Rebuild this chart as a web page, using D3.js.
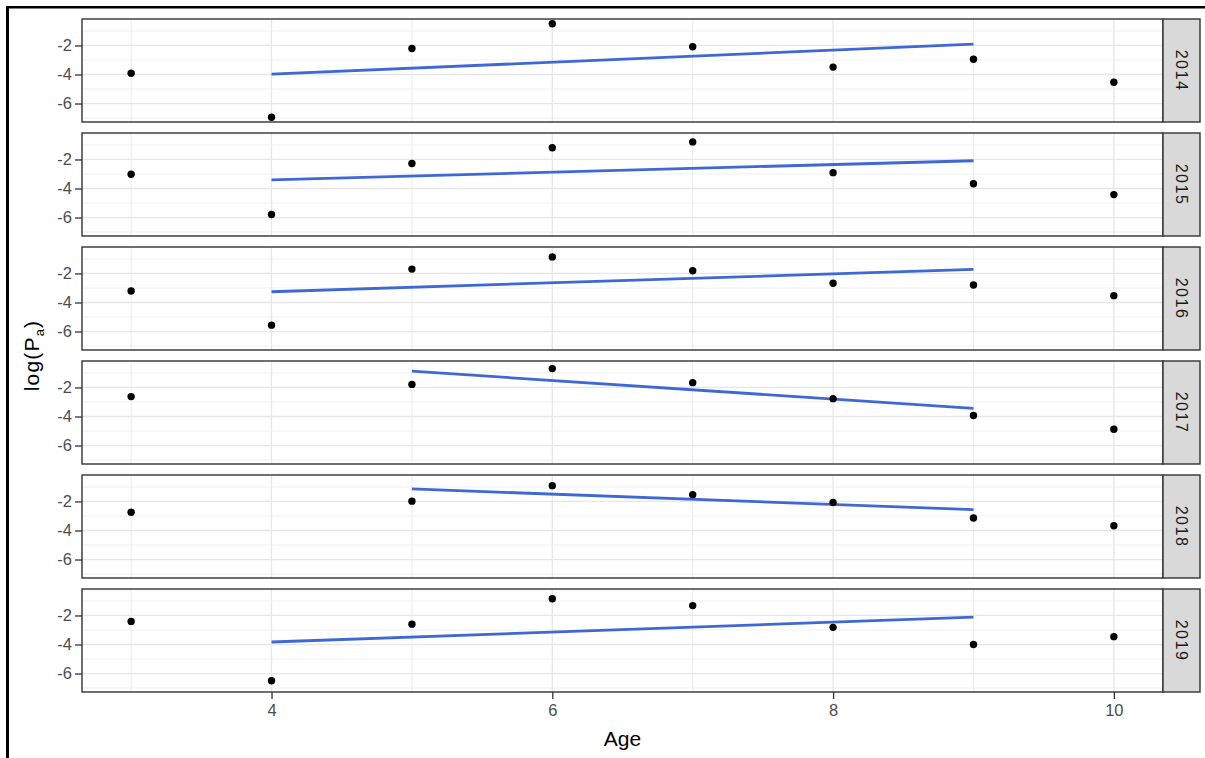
<!DOCTYPE html>
<html>
<head>
<meta charset="utf-8">
<script src="https://cdn.jsdelivr.net/npm/d3@7"></script>
<style>
  html, body { margin: 0; padding: 0; background: #ffffff; }
  svg { display: block; }
  text { font-family: "Liberation Sans", Arial, sans-serif; }
</style>
</head>
<body>
<svg id="chart" width="1205" height="758"></svg>
<script>
// ---- data ----
const years = ["2014", "2015", "2016", "2017", "2018", "2019"];
const ages = [3, 4, 5, 6, 7, 8, 9, 10];
const logP2014 = [-3.91, -6.95, -2.21, -0.50, -2.09, -3.49, -2.95, -4.53];
const logP2015 = [-3.02, -5.79, -2.28, -1.19, -0.79, -2.91, -3.67, -4.42];
const logP2016 = [-3.21, -5.56, -1.70, -0.86, -1.81, -2.67, -2.79, -3.53];
const logP2017 = [-2.63, null, -1.79, -0.70, -1.67, -2.77, -3.93, -4.88];
const logP2018 = [-2.74, null, -1.98, -0.91, -1.53, -2.07, -3.14, -3.67];
const logP2019 = [-2.41, -6.50, -2.60, -0.85, -1.32, -2.82, -4.00, -3.46];
const seriesValues = [logP2014, logP2015, logP2016, logP2017, logP2018, logP2019];
// fitted trend lines (start/end age and value per year)
const fitAgeStart = [4, 4, 4, 5, 5, 4];
const fitAgeEnd = [9, 9, 9, 9, 9, 9];
const fitValStart = [-3.98, -3.40, -3.26, -0.88, -1.14, -3.83];
const fitValEnd = [-1.91, -2.09, -1.72, -3.44, -2.56, -2.12];
const xTicks = [4, 6, 8, 10];
const xMinor = [3, 5, 7, 9];
const yTicks = [-6, -4, -2];
const yMinor = [-7, -5, -3, -1];
const xLabel = "Age";

// ---- layout ----
const svg = d3.select("#chart");
const panelLeft = 82, panelRight = 1163, stripW = 37;
const panelTop0 = 19, panelH = 103, panelStep = 114;

// scales
const xExt = d3.extent(ages);
const xPad = (xExt[1] - xExt[0]) * 0.05;
const x = d3.scaleLinear().domain([xExt[0] - xPad, xExt[1] + xPad]).range([panelLeft, panelRight]);
const allVals = seriesValues.flat().filter(v => v != null);
const yExt = d3.extent(allVals);
const yPad = (yExt[1] - yExt[0]) * 0.05;

// outer frame (left + top)
svg.append("rect").attr("x", 6).attr("y", 6).attr("width", 1199).attr("height", 2.5).attr("fill", "#000");
svg.append("rect").attr("x", 6).attr("y", 6).attr("width", 3).attr("height", 752).attr("fill", "#000");

years.forEach((yr, i) => {
  const top = panelTop0 + i * panelStep;
  const y = d3.scaleLinear().domain([yExt[0] - yPad, yExt[1] + yPad]).range([top + panelH, top]);
  const g = svg.append("g");

  g.append("rect").attr("x", panelLeft).attr("y", top).attr("width", panelRight - panelLeft).attr("height", panelH).attr("fill", "#fff");

  // minor grid
  g.selectAll(".ymin").data(yMinor).join("line")
    .attr("x1", panelLeft).attr("x2", panelRight)
    .attr("y1", d => y(d)).attr("y2", d => y(d))
    .attr("stroke", "#f0f0f0").attr("stroke-width", 1);
  g.selectAll(".xmin").data(xMinor).join("line")
    .attr("y1", top).attr("y2", top + panelH)
    .attr("x1", d => x(d)).attr("x2", d => x(d))
    .attr("stroke", "#ebebeb").attr("stroke-width", 1);
  // major grid
  g.selectAll(".ymaj").data(yTicks).join("line")
    .attr("x1", panelLeft).attr("x2", panelRight)
    .attr("y1", d => y(d)).attr("y2", d => y(d))
    .attr("stroke", "#e6e6e6").attr("stroke-width", 1.3);
  g.selectAll(".xmaj").data(xTicks).join("line")
    .attr("y1", top).attr("y2", top + panelH)
    .attr("x1", d => x(d)).attr("x2", d => x(d))
    .attr("stroke", "#e6e6e6").attr("stroke-width", 1.3);

  // fit line
  const fitData = [[fitAgeStart[i], fitValStart[i]], [fitAgeEnd[i], fitValEnd[i]]];
  g.append("path")
    .attr("d", d3.line().x(d => x(d[0])).y(d => y(d[1]))(fitData))
    .attr("fill", "none").attr("stroke", "#3F68D4").attr("stroke-width", 2.8);

  // points
  const pts = ages.map((a, k) => ({ age: a, v: seriesValues[i][k] })).filter(d => d.v != null);
  g.selectAll("circle").data(pts).join("circle")
    .attr("cx", d => x(d.age)).attr("cy", d => y(d.v)).attr("r", 3.7).attr("fill", "#000");

  // panel border
  g.append("rect").attr("x", panelLeft).attr("y", top).attr("width", panelRight - panelLeft).attr("height", panelH)
    .attr("fill", "none").attr("stroke", "#333").attr("stroke-width", 1.4);

  // y axis
  const yAxis = d3.axisLeft(y).tickValues(yTicks).tickSize(7).tickPadding(3).tickFormat(d3.format("d"));
  const ya = g.append("g").attr("transform", `translate(${panelLeft},0)`).call(yAxis);
  ya.select(".domain").remove();
  ya.selectAll("line").attr("stroke", "#333").attr("stroke-width", 1.3);
  ya.selectAll("text").attr("fill", "#4d4d4d").attr("font-size", 16.5).style("font-family", "Liberation Sans, Arial, sans-serif")
    .text(d => d < 0 ? "-" + Math.abs(d) : d);

  // strip
  g.append("rect").attr("x", panelRight).attr("y", top).attr("width", stripW).attr("height", panelH)
    .attr("fill", "#d9d9d9").attr("stroke", "#333").attr("stroke-width", 1.4);
  g.append("text")
    .attr("transform", `translate(${panelRight + stripW / 2},${top + panelH / 2}) rotate(90)`)
    .attr("text-anchor", "middle").attr("dy", "0.35em")
    .attr("font-size", 16).attr("fill", "#1a1a1a").attr("letter-spacing", 1.5)
    .text(yr);

  // x axis on bottom panel
  if (i === years.length - 1) {
    const xAxis = d3.axisBottom(x).tickValues(xTicks).tickSize(7).tickPadding(5).tickFormat(d3.format("d"));
    const xa = g.append("g").attr("transform", `translate(0,${top + panelH})`).call(xAxis);
    xa.select(".domain").remove();
    xa.selectAll("line").attr("stroke", "#333").attr("stroke-width", 1.3);
    xa.selectAll("text").attr("fill", "#4d4d4d").attr("font-size", 16.5).style("font-family", "Liberation Sans, Arial, sans-serif");
  }
});

// axis titles
svg.append("text")
  .attr("x", (panelLeft + panelRight) / 2).attr("y", 746)
  .attr("text-anchor", "middle").attr("font-size", 21).attr("fill", "#000")
  .text(xLabel);

const yl = svg.append("text")
  .attr("transform", `translate(39,${(panelTop0 + 5 * panelStep + panelH + panelTop0) / 2}) rotate(-90)`)
  .attr("text-anchor", "middle").attr("font-size", 21).attr("fill", "#000").attr("letter-spacing", 1.2);
yl.append("tspan").text("log(P");
yl.append("tspan").attr("font-size", 13).attr("dy", 5).text("a");
yl.append("tspan").attr("dy", -5).text(")");
</script>
</body>
</html>
